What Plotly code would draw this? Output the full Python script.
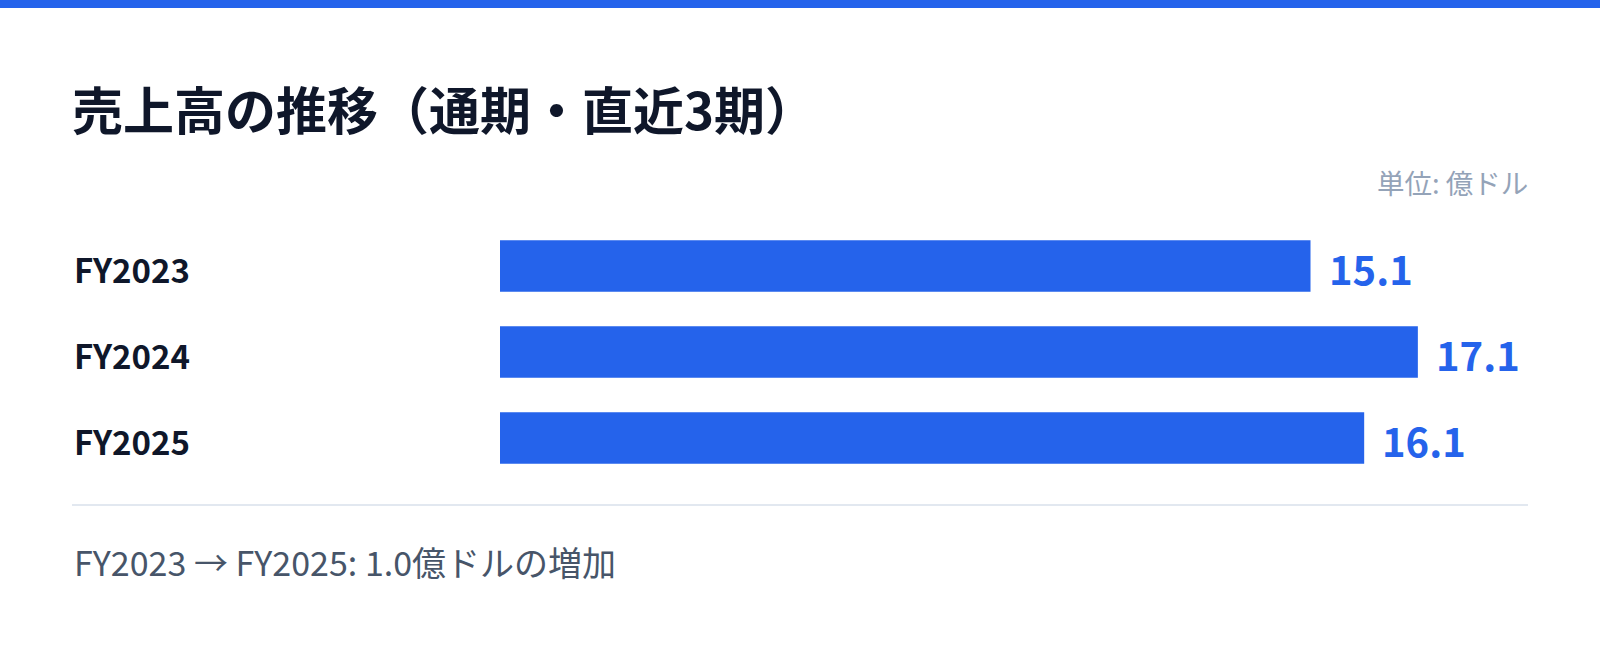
import plotly.graph_objects as go

# data
years = ["FY2023", "FY2024", "FY2025"]
sales = [15.1, 17.1, 16.1]          # 売上高 (億ドル)

title_text = "売上高の推移（通期・直近3期）"
unit_text = "単位: 億ドル"

BLUE = "#2563EB"
DARK = "#0F172A"
FONT = "Noto Sans CJK JP, Noto Sans, sans-serif"

# canvas geometry (pixels)
W, H = 1600, 647
ML, MR, MT, MB = 72, 72, 223, 166
plot_w = W - ML - MR
plot_h = H - MT - MB


def py(pixel):
    # pixel row -> paper y
    return (H - MB - pixel) / plot_h


fig = go.Figure()
fig.add_trace(go.Bar(
    x=sales,
    y=years,
    orientation="h",
    marker=dict(color=BLUE, line=dict(width=0)),
    width=0.6,
    hoverinfo="skip",
))

# value labels at the end of each bar
for yr, v in zip(years, sales):
    fig.add_annotation(x=v, y=yr, xref="x", yref="y", text=f"{v:.1f}",
                       xanchor="left", yanchor="middle", xshift=16, yshift=-2,
                       showarrow=False,
                       font=dict(family=FONT, size=40, color=BLUE, weight="bold"))

# category labels on the left
for yr in years:
    fig.add_annotation(x=0, y=yr, xref="paper", yref="y", text=yr,
                       xanchor="left", yanchor="middle", yshift=-3, showarrow=False,
                       font=dict(family=FONT, size=33, color=DARK, weight="bold"))

# unit label
fig.add_annotation(x=1, y=py(182), xref="paper", yref="paper", text=unit_text,
                   xanchor="right", yanchor="middle", xshift=2, showarrow=False,
                   font=dict(family=FONT, size=27.5, color="#94A3B8"))

# footer: change first -> last
diff = sales[-1] - sales[0]
footer = f"{years[0]} → {years[-1]}: {diff:.1f}億ドルの{'増加' if diff >= 0 else '減少'}"
fig.add_annotation(x=0, y=py(561), xref="paper", yref="paper", text=footer,
                   xanchor="left", yanchor="middle", showarrow=False,
                   font=dict(family=FONT, size=34, color="#475569"))

# top accent strip and divider line
fig.add_shape(type="rect", xref="paper", yref="paper",
              x0=-ML / plot_w, x1=1 + MR / plot_w, y0=py(8), y1=py(-2),
              fillcolor=BLUE, line=dict(width=0), layer="above")
fig.add_shape(type="line", xref="paper", yref="paper",
              x0=0, x1=1, y0=py(505), y1=py(505),
              line=dict(color="#E2E8F0", width=2))

fig.update_layout(
    width=W, height=H,
    margin=dict(l=ML, r=MR, t=MT, b=MB, pad=0),
    paper_bgcolor="white", plot_bgcolor="white",
    showlegend=False,
    title=dict(text=title_text, xref="container", yref="container",
               x=ML / W, y=1 - 112 / H, xanchor="left", yanchor="middle",
               font=dict(family=FONT, size=51, color=DARK, weight="bold")),
    xaxis=dict(domain=[(500 - ML) / plot_w, 1], range=[0, max(sales) * 1.12],
               visible=False, fixedrange=True),
    yaxis=dict(autorange="reversed", visible=False, fixedrange=True),
)

# drop the default 8px body margin so the figure sits at the page corner
fig.write_html("out.html", config={"displayModeBar": False},
               post_script="document.body.style.margin='0';")
